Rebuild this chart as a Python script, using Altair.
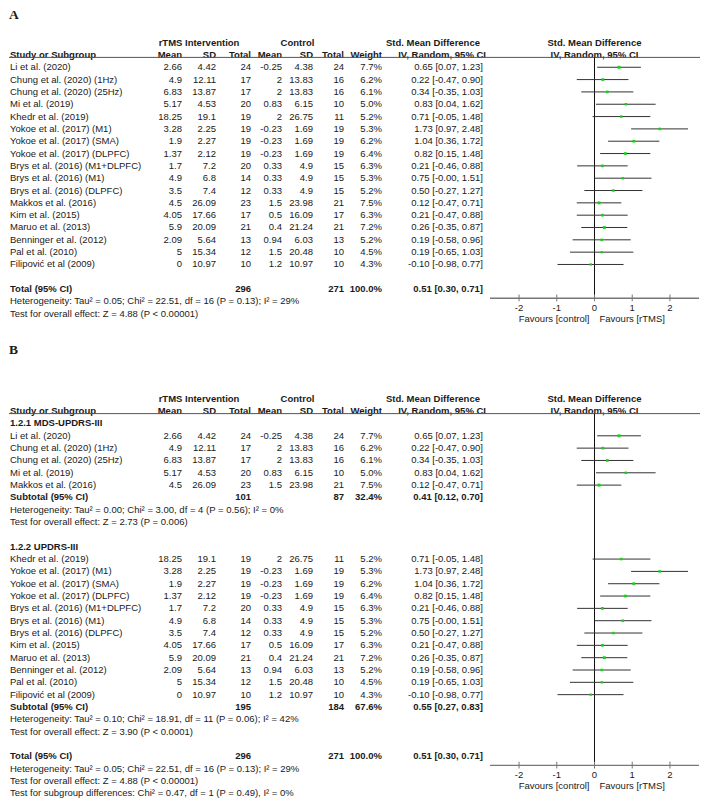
import altair as alt
import pandas as pd

# ---------------- data ----------------
studies = ["Li et al. (2020)", "Chung et al. (2020) (1Hz)", "Chung et al. (2020) (25Hz)",
           "Mi et al. (2019)", "Khedr et al. (2019)", "Yokoe et al. (2017) (M1)",
           "Yokoe et al. (2017) (SMA)", "Yokoe et al. (2017) (DLPFC)",
           "Brys et al. (2016) (M1+DLPFC)", "Brys et al. (2016) (M1)",
           "Brys et al. (2016) (DLPFC)", "Makkos et al. (2016)", "Kim et al. (2015)",
           "Maruo et al. (2013)", "Benninger et al. (2012)", "Pal et al. (2010)",
           "Filipović et al (2009)"]
subgroup = [1, 1, 1, 1, 2, 2, 2, 2, 2, 2, 2, 1, 2, 2, 2, 2, 2]
rtms_mean = [2.66, 4.9, 6.83, 5.17, 18.25, 3.28, 1.9, 1.37, 1.7, 4.9, 3.5, 4.5, 4.05, 5.9, 2.09, 5, 0]
rtms_sd = [4.42, 12.11, 13.87, 4.53, 19.1, 2.25, 2.27, 2.12, 7.2, 6.8, 7.4, 26.09, 17.66, 20.09, 5.64, 15.34, 10.97]
rtms_n = [24, 17, 17, 20, 19, 19, 19, 19, 20, 14, 12, 23, 17, 21, 13, 12, 10]
ctrl_mean = [-0.25, 2, 2, 0.83, 2, -0.23, -0.23, -0.23, 0.33, 0.33, 0.33, 1.5, 0.5, 0.4, 0.94, 1.5, 1.2]
ctrl_sd = [4.38, 13.83, 13.83, 6.15, 26.75, 1.69, 1.69, 1.69, 4.9, 4.9, 4.9, 23.98, 16.09, 21.24, 6.03, 20.48, 10.97]
ctrl_n = [24, 16, 16, 10, 11, 19, 19, 19, 15, 15, 15, 21, 17, 21, 13, 10, 10]
weight = [7.7, 6.2, 6.1, 5.0, 5.2, 5.3, 6.2, 6.4, 6.3, 5.3, 5.2, 7.5, 6.3, 7.2, 5.2, 4.5, 4.3]
smd = [0.65, 0.22, 0.34, 0.83, 0.71, 1.73, 1.04, 0.82, 0.21, 0.75, 0.50, 0.12, 0.21, 0.26, 0.19, 0.19, -0.10]
ci_lo = [0.07, -0.47, -0.35, 0.04, -0.05, 0.97, 0.36, 0.15, -0.46, -0.0, -0.27, -0.47, -0.47, -0.35, -0.58, -0.65, -0.98]
ci_hi = [1.23, 0.90, 1.03, 1.62, 1.48, 2.48, 1.72, 1.48, 0.88, 1.51, 1.27, 0.71, 0.88, 0.87, 0.96, 1.03, 0.77]

subgroup_titles = ["1.2.1 MDS-UPDRS-III", "1.2.2 UPDRS-III"]
# summaries: [overall, subgroup 1, subgroup 2]
sum_n1 = [296, 101, 195]
sum_n2 = [271, 87, 184]
sum_w = ["100.0%", "32.4%", "67.6%"]
sum_est = [0.51, 0.41, 0.55]
sum_lo = [0.30, 0.12, 0.27]
sum_hi = [0.71, 0.70, 0.83]
het_text = ["Heterogeneity: Tau² = 0.05; Chi² = 22.51, df = 16 (P = 0.13); I² = 29%",
            "Heterogeneity: Tau² = 0.00; Chi² = 3.00, df = 4 (P = 0.56); I² = 0%",
            "Heterogeneity: Tau² = 0.10; Chi² = 18.91, df = 11 (P = 0.06); I² = 42%"]
z_text = ["Test for overall effect: Z = 4.88 (P < 0.00001)",
          "Test for overall effect: Z = 2.73 (P = 0.006)",
          "Test for overall effect: Z = 3.90 (P < 0.0001)"]
subgroup_diff_text = "Test for subgroup differences: Chi² = 0.47, df = 1 (P = 0.49), I² = 0%"
axis_ticks = [-2, -1, 0, 1, 2]
x_min, x_max = -2.77, 2.77

# ---------------- layout (row units) ----------------
OB = 28.9      # row offset of panel B
AX = 0.74      # axis offset below total row
TXT = "#1a1a1a"
FONT = "Liberation Sans"
FS = 9.5


def fmt(v):
    return f"{v:g}"


def fmt_ci(e, l, h):
    return f"{e:.2f} [{l:.2f}, {h:.2f}]"


table, forest, diamonds = [], [], []


def study_row(i, y):
    table.append(dict(y=y, label=studies[i], m1=fmt(rtms_mean[i]), s1=fmt(rtms_sd[i]), n1=str(rtms_n[i]),
                      m2=fmt(ctrl_mean[i]), s2=fmt(ctrl_sd[i]), n2=str(ctrl_n[i]),
                      w=f"{weight[i]:.1f}%", ci=fmt_ci(smd[i], ci_lo[i], ci_hi[i]), bold=False))
    forest.append(dict(y=y, smd=smd[i], lo=ci_lo[i], hi=ci_hi[i], w=weight[i]))


def summary_row(k, y, label, did):
    table.append(dict(y=y, label=label, m1="", s1="", n1=str(sum_n1[k]), m2="", s2="", n2=str(sum_n2[k]),
                      w=sum_w[k], ci=fmt_ci(sum_est[k], sum_lo[k], sum_hi[k]), bold=True))
    h = 0.36
    diamonds.extend([dict(id=did, x=sum_lo[k], yt=y, yb=y),
                     dict(id=did, x=sum_est[k], yt=y - h, yb=y + h),
                     dict(id=did, x=sum_hi[k], yt=y, yb=y)])


def note_row(y, text, bold=False):
    table.append(dict(y=y, label=text, m1="", s1="", n1="", m2="", s2="", n2="", w="", ci="", bold=bold))


# Panel A
for i in range(len(studies)):
    study_row(i, i)
yA = len(studies) + 1
summary_row(0, yA, "Total (95% CI)", "A")
note_row(yA + 1, het_text[0])
note_row(yA + 2, z_text[0])

# Panel B
y = OB
for g in (1, 2):
    note_row(y, subgroup_titles[g - 1], bold=True)
    y += 1
    for i in range(len(studies)):
        if subgroup[i] == g:
            study_row(i, y)
            y += 1
    summary_row(g, y, "Subtotal (95% CI)", f"B{g}")
    note_row(y + 1, het_text[g])
    note_row(y + 2, z_text[g])
    y += 4
yB = y
summary_row(0, yB, "Total (95% CI)", "BT")
note_row(yB + 1, het_text[0])
note_row(yB + 2, z_text[0])
note_row(yB + 3, subgroup_diff_text)

tdf = pd.DataFrame(table)
fdf = pd.DataFrame(forest)
ddf = pd.DataFrame(diamonds)

# headers
hdr = []
panels = [(0, "A", yA), (OB, "B", yB)]
for off, name, ytot in panels:
    hdr.append(dict(y=off - 2, t1="rTMS Intervention", t2="Control", t3="Std. Mean Difference",
                    fh="Std. Mean Difference", x0=0))
    hdr.append(dict(y=off - 1, t1="", t2="", t3="", fh="IV, Random, 95% CI", x0=0))
hdf = pd.DataFrame(hdr)
sub = pd.DataFrame([dict(y=off - 1, label="Study or Subgroup", m1="Mean", s1="SD", n1="Total",
                         m2="Mean", s2="SD", n2="Total", w="Weight", ci="IV, Random, 95% CI")
                    for off, _, _ in panels])
pl = pd.DataFrame([dict(y=off - 5.95 if name == "B" else off - 4.2, t=name) for off, name, _ in panels])
lines = pd.DataFrame([dict(y=off - 0.8) for off, _, _ in panels])
zero = pd.DataFrame([dict(x0=0, ya=off - 0.8, yb=ytot + AX) for off, _, ytot in panels])
axl = pd.DataFrame([dict(xa=x_min, xb=x_max, y=ytot + AX) for _, _, ytot in panels])
ticks = pd.DataFrame([dict(t=t, y=ytot + AX, yt=ytot + AX - 0.3, yb=ytot + AX + 0.25,
                           yl=ytot + AX + 0.8, lab=str(t))
                      for _, _, ytot in panels for t in axis_ticks])
fav = pd.DataFrame([dict(x0=0, y=ytot + AX + 1.65) for _, _, ytot in panels])

yscale = alt.Scale(domain=[-4.24, 58.96], reverse=True, nice=False, zero=False)
xscale = alt.Scale(domain=[x_min, x_max], range=[481, 690], nice=False, zero=False)
Y = lambda f: alt.Y(f, type="quantitative", scale=yscale, axis=None)
X = lambda f: alt.X(f, type="quantitative", scale=xscale, axis=None)


def txt(df, field, x, align, bold=False, size=FS, font=FONT):
    return alt.Chart(df).mark_text(align=align, baseline="middle", font=font, fontSize=size,
                                   fontWeight="bold" if bold else "normal", color=TXT).encode(
        x=alt.value(x), y=Y("y"), text=alt.Text(f"{field}:N"))


cols = [("label", 1, "left"), ("m1", 173, "right"), ("s1", 207, "right"), ("n1", 242, "right"),
        ("m2", 273, "right"), ("s2", 304, "right"), ("n2", 335, "right"), ("w", 373, "right"),
        ("ci", 474, "right")]

layers = []
norm = tdf[~tdf["bold"]]
bold = tdf[tdf["bold"]]
for f, x, a in cols:
    layers.append(txt(norm, f, x, a))
    layers.append(txt(bold, f, x, a, bold=True))
sub_cols = cols[:-1] + [("ci", 477, "right")]
for f, x, a in sub_cols:
    layers.append(txt(sub, f, x, a, bold=True))
layers.append(txt(hdf, "t1", 190, "center", bold=True))
layers.append(txt(hdf, "t2", 288.5, "center", bold=True))
layers.append(txt(hdf, "t3", 424, "center", bold=True))
layers.append(alt.Chart(hdf).mark_text(align="center", baseline="middle", font=FONT, fontSize=FS,
                                       fontWeight="bold", color=TXT).encode(
    x=X("x0"), y=Y("y"), text="fh:N"))
layers.append(txt(pl, "t", 0, "left", bold=True, size=13.5, font="Liberation Serif"))

# header lines
layers.append(alt.Chart(lines).mark_rule(color="#555", strokeWidth=1).encode(
    x=alt.value(0), x2=alt.value(692), y=Y("y")))
# zero line
layers.append(alt.Chart(zero).mark_rule(color="#111", strokeWidth=1).encode(
    x=X("x0"), y=Y("ya"), y2="yb:Q"))
# axis
layers.append(alt.Chart(axl).mark_rule(color="#777", strokeWidth=1.3).encode(
    x=X("xa"), x2="xb:Q", y=Y("y")))
layers.append(alt.Chart(ticks).mark_rule(color="#777", strokeWidth=1).encode(
    x=X("t"), y=Y("yt"), y2="yb:Q"))
layers.append(alt.Chart(ticks).mark_text(align="center", baseline="middle", font=FONT, fontSize=FS,
                                         color=TXT).encode(x=X("t"), y=Y("yl"), text="lab:N"))
layers.append(alt.Chart(fav).mark_text(align="right", baseline="middle", font=FONT, fontSize=FS,
                                       color=TXT, dx=-5, text="Favours [control]").encode(
    x=X("x0"), y=Y("y")))
layers.append(alt.Chart(fav).mark_text(align="left", baseline="middle", font=FONT, fontSize=FS,
                                       color=TXT, dx=5, text="Favours [rTMS]").encode(
    x=X("x0"), y=Y("y")))
# CI whiskers & squares
layers.append(alt.Chart(fdf).mark_rule(color="#333", strokeWidth=1).encode(
    x=X("lo"), x2="hi:Q", y=Y("y")))
layers.append(alt.Chart(fdf).mark_square(color="#14d214", opacity=1).encode(
    x=X("smd"), y=Y("y"),
    size=alt.Size("w:Q", scale=alt.Scale(domain=[4, 8], range=[5, 9]), legend=None)))
# diamonds
layers.append(alt.Chart(ddf).mark_area(color="black", opacity=1, interpolate="linear").encode(
    x=X("x"), y=Y("yt"), y2="yb:Q", detail="id:N", order="x:Q"))

chart = alt.layer(*layers).properties(
    width=692, height=790,
    autosize=alt.AutoSizeParams(type="fit", contains="padding"),
    padding={"left": 0, "right": 0, "top": 0, "bottom": 0},
    background="white",
).configure_view(strokeWidth=0)

chart.save("out.html", embed_options={"renderer": "svg", "actions": False})
